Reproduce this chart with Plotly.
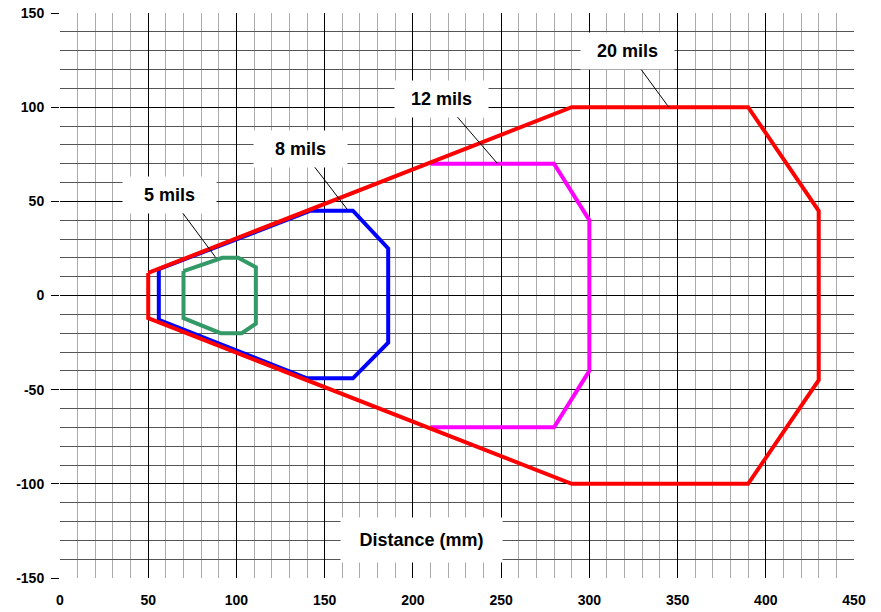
import plotly.graph_objects as go

# 20 mils (red)
red_x = [50, 290, 390, 430, 430, 390, 290, 50, 50]
red_y = [12, 100, 100, 45, -45, -100, -100, -12, 12]
# 12 mils (magenta)
mag_x = [210, 280, 300, 300, 280, 210]
mag_y = [70, 70, 40, -40, -70, -70]
# 8 mils (blue)
blue_x = [56, 142, 166, 186, 186, 166, 140, 56, 56]
blue_y = [14, 45, 45, 25, -25, -44, -44, -13, 14]
# 5 mils (green)
green_x = [70, 92, 101, 111, 111, 103, 91, 70, 70]
green_y = [13, 20, 20, 15, -15, -20, -20, -12, 13]

x_ticks = [0, 50, 100, 150, 200, 250, 300, 350, 400, 450]
y_ticks = [-150, -100, -50, 0, 50, 100, 150]

# label text, arrow head (data), box-center offset (px)
labels = ["5 mils", "8 mils", "12 mils", "20 mils"]
label_hx = [88, 163, 248, 345]
label_hy = [20.5, 45.5, 70, 100]
label_ax = [-46, -47, -56, -41]
label_ay = [-62, -61, -65, -56]

FONT = "Liberation Sans, Arial, sans-serif"

fig = go.Figure()
fig.add_trace(go.Scatter(x=blue_x, y=blue_y, mode="lines",
                         line=dict(color="#0000FF", width=4), showlegend=False,
                         hoverinfo="skip"))
fig.add_trace(go.Scatter(x=mag_x, y=mag_y, mode="lines",
                         line=dict(color="#FF00FF", width=4), showlegend=False,
                         hoverinfo="skip"))
fig.add_trace(go.Scatter(x=green_x, y=green_y, mode="lines",
                         line=dict(color="#339966", width=4), showlegend=False,
                         hoverinfo="skip"))
fig.add_trace(go.Scatter(x=red_x, y=red_y, mode="lines",
                         line=dict(color="#FF0000", width=4), showlegend=False,
                         hoverinfo="skip"))

for t, hx, hy, ax, ay in zip(labels, label_hx, label_hy, label_ax, label_ay):
    fig.add_annotation(x=hx, y=hy, xref="x", yref="y", ax=ax, ay=ay,
                       text="<b>" + t + "</b>", showarrow=True, arrowhead=0,
                       arrowwidth=1, arrowcolor="black",
                       bgcolor="white", width=93, height=36, borderpad=0,
                       font=dict(family=FONT, size=18, color="black"))

fig.add_annotation(x=205, y=-130, xref="x", yref="y", text="<b>Distance (mm)</b>",
                   showarrow=False, bgcolor="white", width=161, height=44,
                   borderpad=0, font=dict(family=FONT, size=18, color="black"))

fig.update_xaxes(range=[0, 450], tickvals=x_ticks, ticktext=[str(v) for v in x_ticks],
                 showgrid=True, gridcolor="black", gridwidth=1,
                 minor=dict(dtick=10, showgrid=True, gridcolor="#aaaaaa", gridwidth=1),
                 zeroline=False, showline=False, ticks="", automargin=False,
                 ticklabelstandoff=12, ticklabeloverflow="allow",
                 tickfont=dict(family=FONT, size=14, color="black", weight="bold"))
fig.update_yaxes(range=[-150, 150], tickvals=y_ticks, ticktext=[str(v) for v in y_ticks],
                 showgrid=True, gridcolor="black", gridwidth=1,
                 minor=dict(dtick=10, showgrid=True, gridcolor="#555555", gridwidth=1),
                 zeroline=False, showline=False, ticks="outside", ticklen=8,
                 tickcolor="black", tickwidth=1, ticklabelstandoff=4, automargin=False,
                 ticklabeloverflow="allow",
                 tickfont=dict(family=FONT, size=14, color="black", weight="bold"))

fig.update_layout(width=881, height=612, margin=dict(l=60, r=27, t=13, b=34),
                  plot_bgcolor="white", paper_bgcolor="white", showlegend=False)

# remove the default 8px page margin so the figure fills the window exactly
fig.write_html("out.html", config={"displayModeBar": False},
               post_script="document.body.style.margin='0px';document.body.style.overflow='hidden';")
